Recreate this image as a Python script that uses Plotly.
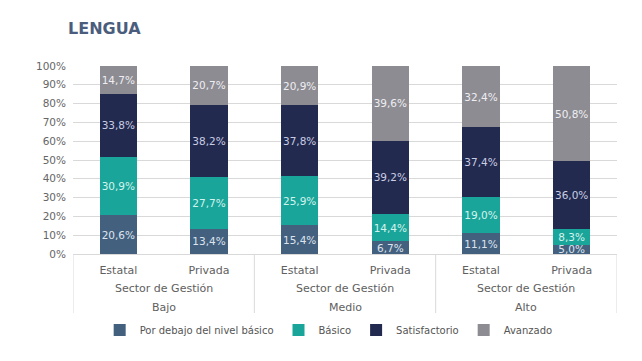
import plotly.graph_objects as go

nivel_groups = ["Bajo", "Medio", "Alto"]
sector = ["Estatal", "Privada", "Estatal", "Privada", "Estatal", "Privada"]
outer_label = "Sector de Gestión"

series_names = ["Por debajo del nivel básico", "Básico", "Satisfactorio", "Avanzado"]
por_debajo = [20.6, 13.4, 15.4, 6.7, 11.1, 5.0]
basico = [30.9, 27.7, 25.9, 14.4, 19.0, 8.3]
satisfactorio = [33.8, 38.2, 37.8, 39.2, 37.4, 36.0]
avanzado = [14.7, 20.7, 20.9, 39.6, 32.4, 50.8]

colors = ["#44607f", "#1aa59a", "#222a50", "#8d8c92"]
text_colors = ["#dde4ee", "#d4f3ee", "#c9cde2", "#eeeef2"]
y_ticks = [0, 10, 20, 30, 40, 50, 60, 70, 80, 90, 100]

FONT = "DejaVu Sans"
LINE = "#d9d9d9"

xpos = list(range(len(sector)))

fig = go.Figure()
for name, vals, c, tc in zip(series_names, [por_debajo, basico, satisfactorio, avanzado], colors, text_colors):
    fig.add_trace(go.Bar(
        x=xpos, y=vals, name=name, marker=dict(color=c, line=dict(width=0)),
        text=[f"{v:.1f}".replace(".", ",") + "%" for v in vals],
        textposition="inside", insidetextanchor="middle", textangle=0,
        constraintext="none",
        textfont=dict(family=FONT, size=10.5, color=tc),
        hoverinfo="skip",
    ))

annotations = [dict(text="<b>LENGUA</b>", xref="paper", yref="paper", x=-0.013, y=1.202,
                    xanchor="left", yanchor="middle", showarrow=False,
                    font=dict(size=16, color="#4b5d7c", family=FONT))]
shapes = []
for g, n in enumerate(nivel_groups):
    cx = 2 * g + 0.5
    annotations.append(dict(text=outer_label, xref="x", yref="paper", x=cx, y=-0.181,
                            xanchor="center", yanchor="middle", showarrow=False,
                            font=dict(size=11, color="#606060", family=FONT)))
    annotations.append(dict(text=n, xref="x", yref="paper", x=cx, y=-0.287,
                            xanchor="center", yanchor="middle", showarrow=False,
                            font=dict(size=11, color="#606060", family=FONT)))
for b in [-0.5, 1.5, 3.5, 5.5]:
    shapes.append(dict(type="line", xref="x", yref="paper", x0=b, x1=b, y0=0, y1=-0.314,
                       line=dict(color=LINE, width=1)))

fig.update_layout(
    barmode="stack",
    bargap=0.59,
    width=634, height=353,
    margin=dict(l=65, r=25, t=58, b=107),
    paper_bgcolor="white", plot_bgcolor="white",
    font=dict(family=FONT, color="#666666"),
    showlegend=True,
    legend=dict(orientation="h", x=0.47, xanchor="center", y=-0.404, yanchor="middle",
                font=dict(size=10, color="#555555", family=FONT), traceorder="normal",
                itemwidth=30),
    annotations=annotations,
    shapes=shapes,
)
fig.update_yaxes(range=[0, 100], tickvals=y_ticks, ticktext=[f"{t}%" for t in y_ticks],
                 showgrid=True, gridcolor=LINE, gridwidth=1, zeroline=False,
                 tickfont=dict(size=10.5, color="#666666", family=FONT), ticks="",
                 showline=False, ticklabelstandoff=6)
fig.update_xaxes(range=[-0.5, 5.5], tickvals=xpos, ticktext=sector,
                 showline=True, linecolor=LINE, linewidth=1, showgrid=False, zeroline=False,
                 tickfont=dict(size=11, color="#606060", family=FONT), ticks="",
                 ticklabelstandoff=6)

fig.write_html("out.html")
